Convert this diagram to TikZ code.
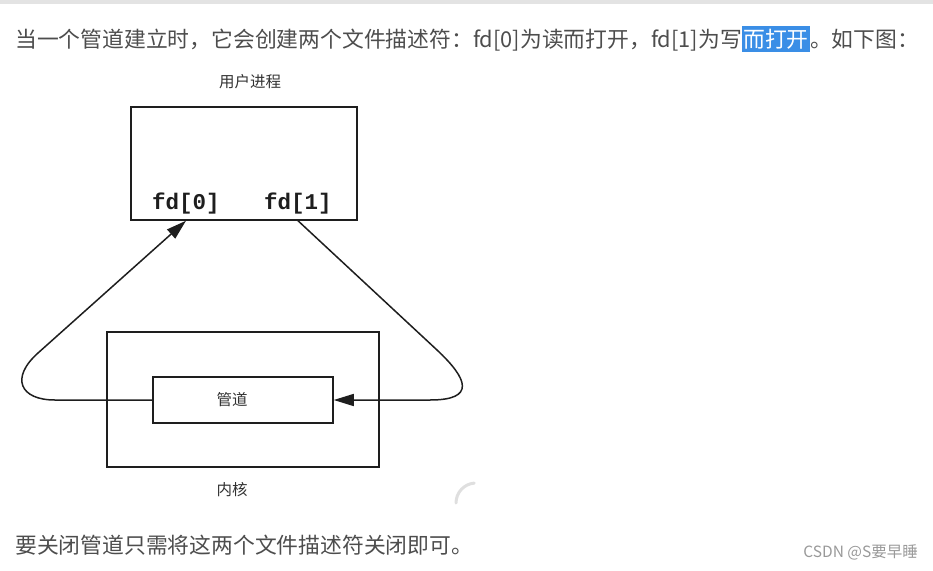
\documentclass[tikz,border=0pt]{standalone}
\usepackage{fontspec}
\usetikzlibrary{arrows.meta}
\newfontfamily\cjk{Noto Sans CJK SC}
\newfontfamily\fdmono{Liberation Mono}
\definecolor{txt}{RGB}{77,77,77}
\definecolor{hl}{RGB}{58,142,230}
\definecolor{ink}{RGB}{30,30,30}
\definecolor{lbl}{RGB}{50,50,50}
\tikzset{
  box/.style={draw=ink, line width=1.5pt, inner sep=0pt},
  fdlabel/.style={font=\fdmono\bfseries\fontsize{22.5}{24}\selectfont, text=ink, inner sep=0pt, anchor=base},
  dlabel/.style={font=\cjk\fontsize{15.5}{17}\selectfont, text=lbl, inner sep=0pt},
  para/.style={font=\cjk\fontsize{21.8}{24}\selectfont, text=txt, inner sep=0pt, anchor=base west},
  conn/.style={draw=ink, line width=1.5pt},
  tip/.style={-{Triangle[length=20pt,width=12pt]}}
}
\begin{document}
\begin{tikzpicture}[x=1pt,y=-1pt]
\useasboundingbox (0,0) rectangle (933,570);
\fill[gray!22] (0,0) rectangle (933,4);
% top paragraph
\node[para] (t1) at (15,47) {当一个管道建立时，它会创建两个文件描述符：fd[0]为读而打开，fd[1]为写};
\node[para, fill=hl, text=white, inner xsep=1pt, inner ysep=3pt, anchor=base west] (t2) at (t1.base east) {而打开};
\node[para] (t3) at (t2.base east) {。如下图：};
% user process box
\node[dlabel] (ulabel) at (250,82) {用户进程};
\node[box, minimum width=226pt, minimum height=113pt] (user) at (244,163.5) {};
\node[fdlabel] (fd0) at (186,209) {fd[0]};
\node[fdlabel] (fd1) at (298,209) {fd[1]};
% kernel box
\node[box, minimum width=272pt, minimum height=135pt] (kernel) at (243,399.5) {};
\node[box, minimum width=180pt, minimum height=46pt] (pipe) at (243,400) {};
\node[dlabel] (pipelabel) at (232,400) {管道};
\node[dlabel] (klabel) at (232,490) {内核};
% connectors
\draw[conn, tip] (pipe.west) -- (55,400) .. controls (20,400) and (10,378) .. (38,353) -- (fd0 |- user.south);
\draw[conn, tip] (fd1 |- user.south) -- (437,350) .. controls (468,379) and (476,400) .. (430,400) -- (pipe.east);
% faint arc artifact
\draw[gray!25, line width=3pt, line cap=round] (456,503) arc[start angle=180, end angle=95, radius=20pt];
% bottom paragraph
\node[para] (b1) at (15,553) {要关闭管道只需将这两个文件描述符关闭即可。};
\node[font=\cjk\fontsize{15.5}{17}\selectfont, text=gray!80, inner sep=0pt, anchor=base east] (wm) at (918,557) {CSDN @S要早睡};
\end{tikzpicture}
\end{document}
